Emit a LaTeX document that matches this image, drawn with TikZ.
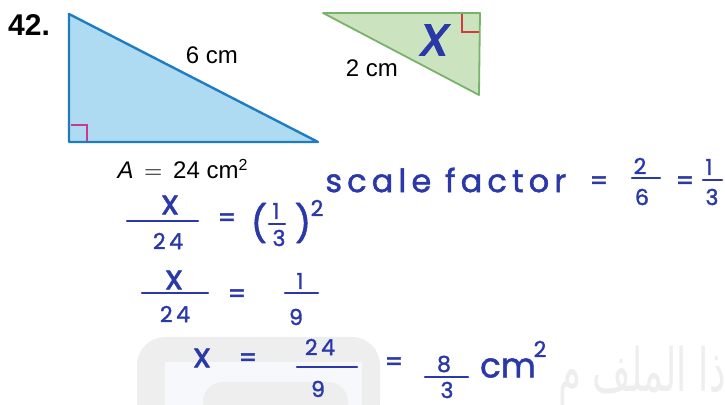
\documentclass[tikz,border=0pt]{standalone}
\usepackage{amsmath}
\usepackage{fontspec}
\usepackage{xcolor}
\setmainfont{Liberation Sans}
\newfontfamily\hwfont[LetterSpace=16, FakeBold=1.5]{Poppins}
\newfontfamily\hwplain[FakeBold=1.5]{Poppins}
\newfontfamily\arabicfont[Script=Arabic]{DejaVu Sans}
\TeXXeTstate=1
\definecolor{bigfill}{HTML}{AEDBF2}
\definecolor{bigline}{HTML}{1F7CC2}
\definecolor{smallfill}{HTML}{CBE3BE}
\definecolor{smallline}{HTML}{78B26C}
\definecolor{inkblue}{HTML}{2A38A8}
\definecolor{markpink}{HTML}{C93A8C}
\definecolor{markred}{HTML}{D33A3A}
\definecolor{wmgray}{HTML}{EEEEEE}
\definecolor{wmpale}{HTML}{F6F8FB}

\begin{document}
\begin{tikzpicture}[x=0.5pt, y=-0.5pt,
    print/.style={font=\fontsize{12}{14}\selectfont, inner sep=0pt},
    ink/.style={text=inkblue, inner sep=0pt, font=\hwplain\fontsize{11}{13}\selectfont},
    inkword/.style={ink, font=\hwfont\fontsize{16}{18}\selectfont},
    inkvar/.style={ink, font=\hwplain\fontsize{17}{19}\selectfont},
    inkeq/.style={ink, font=\hwplain\fontsize{13}{15}\selectfont},
    bar/.style={inkblue, line width=1.2pt, line cap=round}]
    \useasboundingbox (0,0) rectangle (725,405);
    % Watermark
    \fill[wmgray, rounded corners=14pt] (137,337) rectangle (380,430);
    \fill[wmpale] (165,362) rectangle (362,430);
    \fill[wmgray, rounded corners=10pt] (203,382) rectangle (348,430);
    \node[text=wmgray, font=\arabicfont\fontsize{30}{32}\selectfont, anchor=east, inner sep=0pt] (wm) at (726,376) {\scalebox{0.62}[1]{\beginR ذا الملف م\endR}};
    % Large triangle
    \coordinate (bt) at (69,14);
    \coordinate (bl) at (69,142);
    \coordinate (br) at (318,142);
    \filldraw[fill=bigfill, draw=bigline, line width=1.2pt, line join=round] (bt) -- (bl) -- (br) -- cycle;
    \draw[markpink, line width=0.6pt] (71,125) -- (87,125) -- (87,141);
    % Small triangle
    \coordinate (sl) at (323,13);
    \coordinate (sr) at (480,13);
    \coordinate (sb) at (479,95);
    \filldraw[fill=smallfill, draw=smallline, line width=0.9pt, line join=round] (sl) -- (sr) -- (sb) -- cycle;
    \draw[markred, line width=0.6pt] (462,14) -- (462,32) -- (479,32);
    % Printed labels
    \node[font=\bfseries\fontsize{15}{17}\selectfont, inner sep=0pt] (num) at (29,25) {42.};
    \node[print] (side6) at (212,55) {6 cm};
    \node[print] (side2) at (372,68) {2 cm};
    \node[print] (area) at (183,169) {\textit{A}\, $=$\, 24 cm\textsuperscript{2}};
    \node[ink, font=\hwplain\itshape\fontsize{28}{30}\selectfont] (xside) at (435,40) {x};
    % Scale factor
    \node[inkword, anchor=west] (scale) at (325,180) {scale factor};
    \node[inkeq] (eqA) at (599,183) {=};
    \node[ink] (twoA) at (640,166) {2};
    \node[ink] (sixA) at (642,197) {6};
    \node[inkeq] (eqB) at (685,183) {=};
    \node[ink] (oneA) at (709,167) {1};
    \node[ink] (threeA) at (712,197) {3};
    \draw[bar] (632,178) -- (660,178);
    \draw[bar] (703,180) -- (722,180);
    % x/24 = (1/3)^2
    \node[inkvar] (xB) at (170,205) {x};
    \node[ink, font=\hwfont\fontsize{11}{13}\selectfont] (dB) at (168,241) {24};
    \node[inkeq] (eqC) at (227,220) {=};
    \node[ink, font=\hwplain\fontsize{18}{20}\selectfont] (lpar) at (259,223) {(};
    \node[ink] (oneB) at (276,211) {1};
    \node[ink] (threeB) at (279,238) {3};
    \node[ink, font=\hwplain\fontsize{18}{20}\selectfont] (rpar) at (303,223) {)};
    \node[ink] (sqB) at (317,208) {2};
    \draw[bar] (269,224) -- (285,224);
    \draw[bar] (127,221) -- (198,221);
    % x/24 = 1/9
    \node[inkvar] (xC) at (174,280) {x};
    \node[ink, font=\hwfont\fontsize{11}{13}\selectfont] (dC) at (175,314) {24};
    \node[inkeq] (eqD) at (237,296) {=};
    \node[ink] (oneC) at (300,281) {1};
    \node[ink] (nineC) at (296,317) {9};
    \draw[bar] (142,293) -- (208,293);
    \draw[bar] (285,293) -- (318,293);
    % x = 24/9 = 8/3 cm^2
    \node[inkvar] (xD) at (202,358) {x};
    \node[inkeq] (eqE) at (248,360) {=};
    \node[ink, font=\hwfont\fontsize{11}{13}\selectfont] (nD) at (320,347) {24};
    \node[ink] (nineD) at (318,389) {9};
    \node[inkeq] (eqF) at (394,364) {=};
    \node[ink] (eightD) at (444,364) {8};
    \node[ink] (threeD) at (447,390) {3};
    \node[inkvar] (unitD) at (508,368) {cm};
    \node[ink] (sqD) at (540,349) {2};
    \draw[bar] (297,367) -- (357,367);
    \draw[bar] (425,377) -- (468,377);
\end{tikzpicture}
\end{document}
